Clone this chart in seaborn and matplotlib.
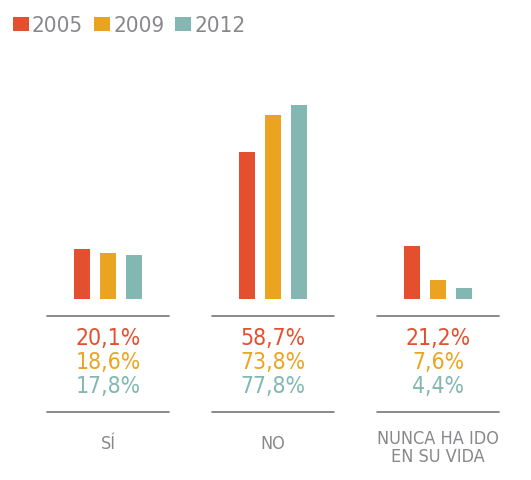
import pandas as pd
import numpy as np
import matplotlib
matplotlib.use('Agg')
import matplotlib.pyplot as plt
import seaborn as sns

# Datos
categorias = ['SÍ', 'NO', 'NUNCA HA IDO\nEN SU VIDA']
anos = ['2005', '2009', '2012']
v2005 = [20.1, 58.7, 21.2]
v2009 = [18.6, 73.8, 7.6]
v2012 = [17.8, 77.8, 4.4]
colores = ['#E4502F', '#EAA422', '#83B8B2']
gris_texto = '#88888C'
gris_linea = '#777777'

df = pd.DataFrame({
    'categoria': categorias * 3,
    'ano': [a for a in anos for _ in categorias],
    'valor': v2005 + v2009 + v2012,
})

sns.set_theme(style='white')
plt.rcParams['font.family'] = ['DejaVu Sans']
plt.rcParams['font.stretch'] = 'condensed'

fig = plt.figure(figsize=(5.31, 4.8), dpi=100)
ax = fig.add_axes([0, 0, 1, 1])

sns.barplot(data=df, x='categoria', y='valor', hue='ano', palette=colores,
            width=0.473, gap=0.35, saturation=1, linewidth=0, ax=ax, errorbar=None)

# escala: base de barras en y=299 px, 2.5 px por %
k = 2.5
ax.set_ylim(-(480 - 299) / k, 299 / k)
ax.set_xlim(-108 / 165, (531 - 108) / 165)
ax.axis('off')

def y_px(py):
    return (299 - py) / k

series = [v2005, v2009, v2012]
filas = [338, 362, 386]
for i, cat in enumerate(categorias):
    ax.plot([i - 0.367, i + 0.367], [y_px(316)] * 2, color=gris_linea, lw=1.2)
    ax.plot([i - 0.367, i + 0.367], [y_px(412)] * 2, color=gris_linea, lw=1.2)
    for vals, col, fy in zip(series, colores, filas):
        txt = f'{vals[i]:.1f}%'.replace('.', ',')
        ax.text(i, y_px(fy), txt, color=col, fontsize=16.5, ha='center', va='center')
    yc = 444 if '\n' not in cat else 448.5
    ax.text(i, y_px(yc), cat, color=gris_texto, fontsize=13, ha='center',
            va='center', linespacing=1.0)

sns.move_legend(ax, 'upper left', bbox_to_anchor=(13 / 531, 1 - 16 / 480), ncol=3,
                frameon=False, title=None, fontsize=16, borderpad=0, borderaxespad=0,
                handlelength=0.7, handleheight=0.6, handletextpad=0.15,
                columnspacing=0.5, labelcolor=gris_texto)

fig.savefig('out.png', dpi=100)
